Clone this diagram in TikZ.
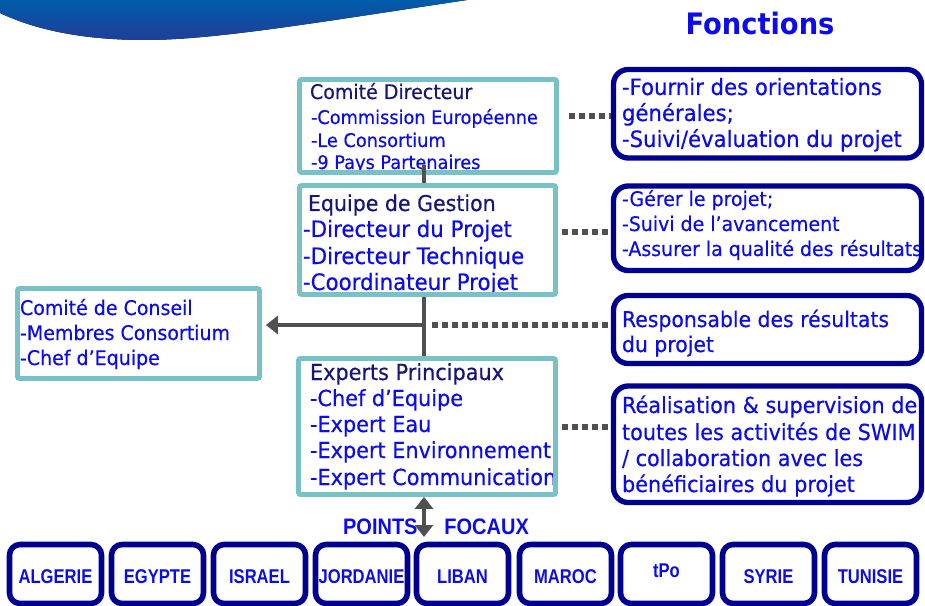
\documentclass[tikz,border=0pt]{standalone}
\usepackage{fontspec}
\setmainfont{DejaVu Sans}
\newfontfamily\dvh{DejaVu Sans}[FakeBold=0.5]
\newfontfamily\arialf{Liberation Sans}
\usepackage{graphicx}
\usetikzlibrary{arrows.meta,fit}
\definecolor{tblue}{RGB}{12,12,235}
\definecolor{tnavy}{RGB}{22,22,120}
\definecolor{bnavy}{RGB}{0,0,145}
\definecolor{teal1}{RGB}{120,193,198}
\definecolor{cgray}{RGB}{80,80,80}
\definecolor{swtop}{RGB}{0,92,170}
\definecolor{swbot}{RGB}{32,62,152}
\begin{document}
\begin{tikzpicture}[x=0.75pt,y=-0.75pt,
 txt/.style={anchor=base west, inner sep=0pt, outer sep=0pt, text=tblue},
 ttl/.style={txt, text=tnavy},
 sz/.style={font=\dvh\fontsize{#1}{#1}\selectfont},
 tealbox/.style={draw=teal1, line width=3.6pt, rounded corners=1.5pt, inner sep=0pt},
 fbox/.style={draw=bnavy, line width=4pt, rounded corners=11pt, inner sep=0pt},
 cbox/.style={draw=bnavy, line width=4.2pt, rounded corners=8pt, inner sep=0pt},
 clbl/.style={anchor=base, inner sep=0pt, text=tblue, font=\arialf\bfseries\fontsize{12.45}{12.45}\selectfont},
 conn/.style={draw=cgray, line width=3.5pt},
 dotc/.style={draw=cgray, line width=4.5pt, dash pattern=on 4.5pt off 3pt},
 ]
\useasboundingbox (0,0) rectangle (925,606);
% blue swoosh
\fill[top color=swtop, bottom color=swbot] (0,0) -- (0,13) .. controls (40,32) and (90,40) .. (145,40) .. controls (215,40) and (320,22) .. (467,0) -- cycle;
% title
\node[anchor=base, inner sep=0pt, text=tblue, font=\fontsize{20.5}{20.5}\selectfont\bfseries] (fct) at (760,35) {\scalebox{1}[1.08]{Fonctions}};

% Comite Directeur text
\node[ttl, sz=14.25] (cd0) at (310,99) {\scalebox{1}[1.06]{Comité Directeur}};
\node[txt, sz=13.3] (cd1) at (311,124) {\scalebox{1}[1.06]{-Commission Européenne}};
\node[txt, sz=13.3] (cd2) at (311,147) {\scalebox{1}[1.06]{-Le Consortium}};
\node[txt, sz=13.3] (cd3) at (311,169) {\scalebox{1}[1.06]{-9 Pays Partenaires}};
% Equipe de Gestion text
\node[ttl, sz=15.4] (eg0) at (308,211) {\scalebox{1}[1.06]{Equipe de Gestion}};
\node[txt, sz=16] (eg1) at (303,237) {\scalebox{1}[1.06]{-Directeur du Projet}};
\node[txt, sz=16] (eg2) at (303,264) {\scalebox{1}[1.06]{-Directeur Technique}};
\node[txt, sz=16] (eg3) at (303,290) {\scalebox{1}[1.06]{-Coordinateur Projet}};
% Comite de Conseil text
\node[txt, sz=14.25] (cc0) at (20,315) {\scalebox{1}[1.06]{Comité de Conseil}};
\node[txt, sz=14.25] (cc1) at (20,340) {\scalebox{1}[1.06]{-Membres Consortium}};
\node[txt, sz=14.25] (cc2) at (20,365) {\scalebox{1}[1.06]{-Chef d’Equipe}};
% Experts text
\node[ttl, sz=15.6] (ep0) at (310,380) {\scalebox{1}[1.06]{Experts Principaux}};
\node[txt, sz=15.6] (ep1) at (310,406) {\scalebox{1}[1.06]{-Chef d’Equipe}};
\node[txt, sz=15.6] (ep2) at (310,432) {\scalebox{1}[1.06]{-Expert Eau}};
\node[txt, sz=15.6] (ep3) at (310,458) {\scalebox{1}[1.06]{-Expert Environnement}};
\node[txt, sz=15.6] (ep4) at (310,485) {\scalebox{1}[1.06]{-Expert Communication}};
% function texts
\node[txt, sz=15.9] (fa1) at (622,95) {\scalebox{1}[1.06]{-Fournir des orientations}};
\node[txt, sz=15.9] (fa2) at (622,121) {\scalebox{1}[1.06]{générales;}};
\node[txt, sz=15.9] (fa3) at (622,147) {\scalebox{1}[1.06]{-Suivi/évaluation du projet}};
\node[txt, sz=14.2] (fb1) at (622,206) {\scalebox{1}[1.06]{-Gérer le projet;}};
\node[txt, sz=14.2] (fb2) at (622,231) {\scalebox{1}[1.06]{-Suivi de l’avancement}};
\node[txt, sz=14.2] (fb3) at (622,256) {\scalebox{1}[1.06]{-Assurer la qualité des résultats}};
\node[txt, sz=15.3] (fc1) at (622,327) {\scalebox{1}[1.06]{Responsable des résultats}};
\node[txt, sz=15.3] (fc2) at (622,352) {\scalebox{1}[1.06]{du projet}};
\node[txt, sz=15.6] (fd1) at (622,413) {\scalebox{1}[1.06]{Réalisation \& supervision de}};
\node[txt, sz=15.6] (fd2) at (622,440) {\scalebox{1}[1.06]{toutes les activités de SWIM}};
\node[txt, sz=15.6] (fd3) at (622,466) {\scalebox{1}[1.06]{/ collaboration avec les}};
\node[txt, sz=15.6] (fd4) at (622,492) {\scalebox{1}[1.06]{bénéficiaires du projet}};

% boxes
\node[tealbox, fit={(299.5,79.5) (556.5,172.5)}] (cd) {};
\node[tealbox, fit={(299.5,185.5) (555.5,294.5)}] (eg) {};
\node[tealbox, fit={(17.5,288.5) (259.5,378.5)}] (cc) {};
\node[tealbox, fit={(298.5,358.5) (555.5,494.5)}] (ep) {};
\node[fbox, fit={(613.5,69.5) (921.5,158)}] (f1) {};
\node[fbox, fit={(613.5,186) (921.5,270.5)}] (f2) {};
\node[fbox, fit={(613.5,295.5) (921.5,363.5)}] (f3) {};
\node[fbox, fit={(613.5,386) (921.5,502.5)}] (f4) {};

% points focaux
\node[anchor=base, inner sep=0pt, text=tblue, font=\arialf\bfseries\fontsize{15}{15}\selectfont] (pts) at (436,534) {\scalebox{1}[1.12]{POINTS \hspace{16pt}FOCAUX}};

% country labels then boxes
\foreach \sx/\lab/\ly [count=\i] in {7/ALGERIE/583, 109/EGYPTE/583, 211/ISRAEL/583, 313/JORDANIE/583, 414/LIBAN/583, 517/MAROC/583, 618/tPo/577, 720/SYRIE/583, 822/TUNISIE/583}
  \node[clbl] (l\i) at (\sx+48.5,\ly) {\scalebox{1}[1.2]{\lab}};
\foreach \sx [count=\i] in {7,109,211,313,414,517,618,720,822}
  \node[cbox, fit={(\sx+2.5,544.5) (\sx+94.5,603.5)}] (b\i) {};

% connectors
\coordinate (J) at (424,325);
\coordinate (pf) at (424,537);
\draw[conn] ([shift={(-4,-10)}]cd.south) -- ([shift={(-3.5,0)}]eg.north);
\draw[conn] ([shift={(-3.5,0)}]eg.south) -- ([shift={(-3,0)}]ep.north);
\draw[conn, -{Triangle[width=13.5pt,length=9pt]}, shorten >=3pt] (J) -- (cc.east |- J);
\draw[conn, {Triangle[width=13.5pt,length=9pt]}-{Triangle[width=13.5pt,length=9pt]}] ([shift={(-3,0)}]ep.south) -- (pf);
\path ([shift={(10,-10)}]cd.east) coordinate (d1);
\path ([shift={(4,-8)}]eg.east) coordinate (d2);
\path ([shift={(8,0)}]J) coordinate (d3);
\path ([shift={(4,0)}]ep.east) coordinate (d4);
\draw[dotc] (d1) -- (f1.west |- d1);
\draw[dotc] (d2) -- (f2.west |- d2);
\draw[dotc] (d3) -- (f3.west |- d3);
\draw[dotc] (d4) -- (f4.west |- d4);
\end{tikzpicture}
\end{document}
